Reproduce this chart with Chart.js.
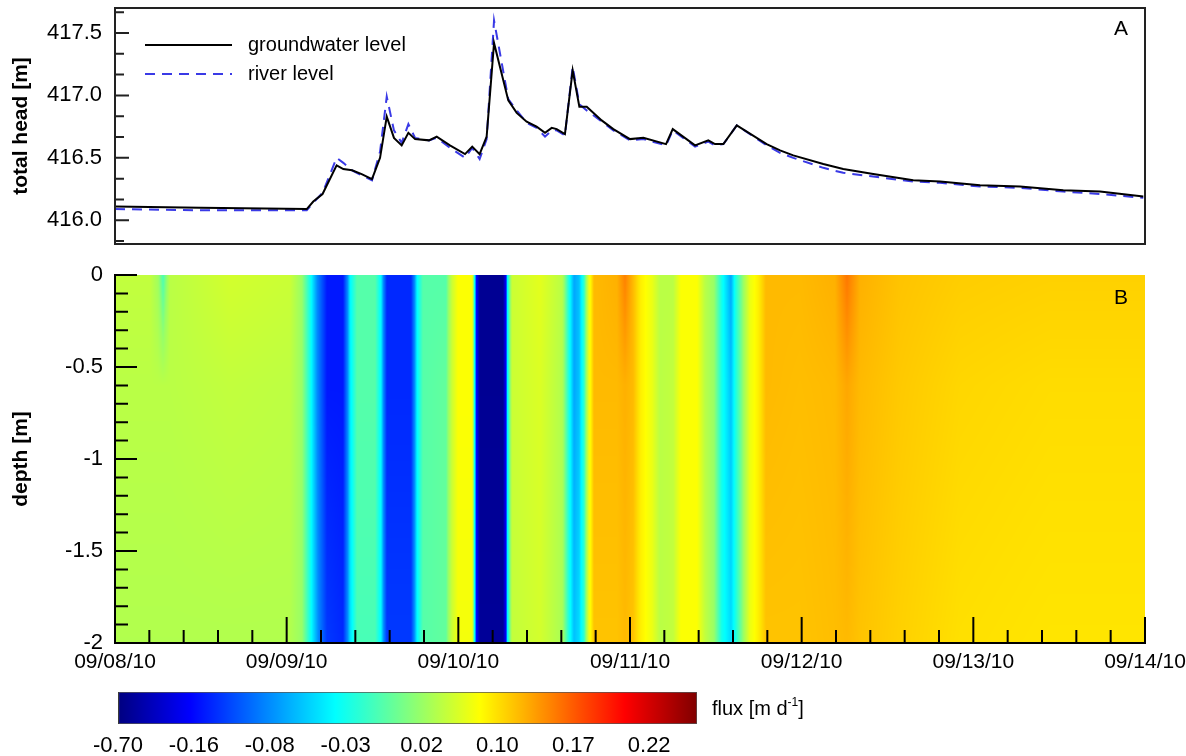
<!DOCTYPE html>
<html>
<head>
<meta charset="utf-8">
<script src="https://cdn.jsdelivr.net/npm/chart.js@4.4.0/dist/chart.umd.min.js"></script>
<style>
  html, body { margin: 0; padding: 0; background: #fff; width: 1186px; height: 756px; overflow: hidden; }
  canvas { position: absolute; left: 0; }
  #headChart { top: 0; }
  #fluxChart { top: 262px; }
  #barChart { top: 685px; }
  .txt { position: absolute; font-family: "Liberation Sans", Arial, sans-serif; color: #000; white-space: nowrap; }
  .txt sup { font-size: 12px; position: relative; top: -2px; vertical-align: top; }
</style>
</head>
<body>
<canvas id="headChart" width="1200" height="246"></canvas>
<canvas id="fluxChart" width="1200" height="421"></canvas>
<canvas id="barChart" width="1200" height="71"></canvas>
<div class="txt" style="left:1114px; top:16px; font-size:21px;">A</div>
<div class="txt" style="left:1114px; top:285px; font-size:21px;">B</div>
<div class="txt" style="left:712px; top:697px; font-size:20px;">flux [m d<sup>-1</sup>]</div>

<script>
// days since 09/08/10 00:00
const days = [0, 0.5, 1.117, 1.155, 1.209, 1.291, 1.330, 1.381, 1.437, 1.497, 1.544, 1.583, 1.625, 1.670, 1.709,
  1.748, 1.829, 1.874, 1.951, 2.039, 2.081, 2.124, 2.165, 2.208, 2.291, 2.340, 2.398, 2.456, 2.505, 2.544,
  2.573, 2.621, 2.666, 2.705, 2.748, 2.835, 2.903, 3.000, 3.078, 3.210, 3.249, 3.379, 3.456, 3.495, 3.544,
  3.622, 3.796, 3.874, 3.951, 4.126, 4.242, 4.417, 4.650, 4.806, 5.039, 5.272, 5.524, 5.738, 5.990];
const groundwater = [416.11, 416.10, 416.09, 416.15, 416.21, 416.44, 416.41, 416.40, 416.37, 416.33, 416.50, 416.83, 416.66, 416.60, 416.70,
  416.65, 416.64, 416.67, 416.60, 416.53, 416.59, 416.53, 416.67, 417.42, 416.96, 416.86, 416.79, 416.75, 416.70, 416.74,
  416.73, 416.69, 417.20, 416.91, 416.91, 416.80, 416.73, 416.65, 416.66, 416.61, 416.73, 416.60, 416.64, 416.61, 416.61,
  416.76, 416.61, 416.56, 416.52, 416.45, 416.41, 416.37, 416.32, 416.31, 416.28, 416.27, 416.24, 416.23, 416.19];
const river = [416.09, 416.08, 416.08, 416.14, 416.22, 416.50, 416.46, 416.40, 416.36, 416.32, 416.55, 416.99, 416.72, 416.62, 416.77,
  416.66, 416.64, 416.66, 416.58, 416.50, 416.58, 416.49, 416.65, 417.60, 416.97, 416.88, 416.78, 416.74, 416.67, 416.72,
  416.72, 416.68, 417.23, 416.93, 416.88, 416.79, 416.72, 416.64, 416.65, 416.60, 416.72, 416.59, 416.63, 416.60, 416.61,
  416.76, 416.60, 416.54, 416.50, 416.42, 416.38, 416.35, 416.31, 416.30, 416.27, 416.26, 416.23, 416.21, 416.18];

const dateLabels = ['09/08/10', '09/09/10', '09/10/10', '09/11/10', '09/12/10', '09/13/10', '09/14/10'];
const headTicks = [416.0, 416.5, 417.0, 417.5];
const depthTicks = [0, -0.5, -1, -1.5, -2];

// flux field: columns in time, rows at these depths
const fluxDepths = [0, -0.6, -2];
const fluxTimes = [0, 0.204, 0.250, 0.280, 0.320, 0.670, 1.019, 1.089, 1.142, 1.194, 1.235, 1.328, 1.369, 1.410, 1.515,
  1.550, 1.584, 1.724, 1.759, 1.794, 1.928, 1.963, 1.998, 2.080, 2.103, 2.126, 2.260, 2.283, 2.313, 2.476,
  2.604, 2.639, 2.674, 2.703, 2.732, 2.761, 2.790, 2.924, 2.971, 3.018, 3.064, 3.128, 3.175, 3.251, 3.297,
  3.390, 3.437, 3.489, 3.535, 3.588, 3.612, 3.652, 3.699, 3.746, 3.792, 3.990, 4.194, 4.264, 4.340, 4.573,
  4.922, 5.447, 6.000];
const fluxTop = [0.045, 0.045, 0.025, -0.01, 0.040, 0.055, 0.050, 0.020, -0.035, -0.10, -0.15, -0.15, -0.04, -0.005, -0.005,
  -0.04, -0.14, -0.14, -0.04, -0.005, -0.005, 0.05, 0.08, 0.08, -0.10, -0.62, -0.62, -0.05, 0.05, 0.065,
  0.04, -0.02, -0.07, -0.06, -0.02, 0.07, 0.12, 0.125, 0.15, 0.12, 0.09, 0.07, 0.04, 0.04, 0.08,
  0.08, 0.04, 0.02, -0.03, -0.07, -0.03, 0.01, 0.07, 0.09, 0.12, 0.12, 0.125, 0.155, 0.125, 0.115,
  0.11, 0.108, 0.108];
const fluxMid = [0.040, 0.040, 0.040, 0.040, 0.040, 0.045, 0.042, 0.020, -0.035, -0.10, -0.15, -0.15, -0.045, -0.005, -0.005,
  -0.04, -0.14, -0.14, -0.04, -0.005, 0.0, 0.05, 0.08, 0.08, -0.10, -0.62, -0.62, -0.05, 0.05, 0.06,
  0.035, -0.02, -0.07, -0.06, -0.02, 0.07, 0.12, 0.12, 0.125, 0.12, 0.09, 0.07, 0.04, 0.045, 0.08,
  0.08, 0.04, 0.02, -0.03, -0.06, -0.03, 0.01, 0.07, 0.09, 0.12, 0.118, 0.12, 0.13, 0.12, 0.112,
  0.105, 0.102, 0.102];
const fluxBottom = [0.035, 0.035, 0.035, 0.035, 0.035, 0.035, 0.035, 0.020, -0.035, -0.09, -0.13, -0.14, -0.05, -0.01, -0.01,
  -0.04, -0.13, -0.13, -0.04, -0.005, 0.0, 0.05, 0.075, 0.075, -0.10, -0.60, -0.60, -0.05, 0.045, 0.055,
  0.03, -0.02, -0.06, -0.05, -0.02, 0.07, 0.115, 0.115, 0.12, 0.115, 0.09, 0.07, 0.04, 0.045, 0.08,
  0.08, 0.045, 0.02, -0.03, -0.05, -0.03, 0.01, 0.07, 0.09, 0.115, 0.115, 0.118, 0.12, 0.115, 0.108,
  0.10, 0.097, 0.097];

const fluxLevels = [-0.70, -0.16, -0.08, -0.03, 0.02, 0.10, 0.17, 0.22];
const barMax = 7.63;

const FONT = '"Liberation Sans", Arial, sans-serif';

function jet(u) {
  const c = x => Math.round(255 * Math.max(0, Math.min(1, x)));
  return [c(1.5 - Math.abs(4 * u - 3)), c(1.5 - Math.abs(4 * u - 2)), c(1.5 - Math.abs(4 * u - 1))];
}

function fluxIndex(v) {
  const L = fluxLevels;
  if (v <= L[0]) return 0;
  for (let i = 0; i < L.length - 1; i++) {
    if (v <= L[i + 1]) return i + (v - L[i]) / (L[i + 1] - L[i]);
  }
  return Math.min(barMax, L.length - 1 + (v - L[L.length - 1]) / 0.05);
}

function interp(xs, ys, x) {
  if (x <= xs[0]) return ys[0];
  for (let i = 0; i < xs.length - 1; i++) {
    if (x <= xs[i + 1]) return ys[i] + (ys[i + 1] - ys[i]) * (x - xs[i]) / (xs[i + 1] - xs[i]);
  }
  return ys[ys.length - 1];
}

// keep the plot box where the layout padding puts it
function fixWidth(w) {
  return s => { s.width = w; s.paddingTop = 0; s.paddingBottom = 0; };
}

// draws the flux field pixel by pixel through the chart scales
const fieldPlugin = {
  id: 'field',
  beforeDatasetsDraw(chart) {
    const { ctx, chartArea: a, scales: { x, y } } = chart;
    const w = Math.round(a.right - a.left), h = Math.round(a.bottom - a.top);
    const img = ctx.createImageData(w, h);
    const rows = [fluxTop, fluxMid, fluxBottom];
    const depthAt = [];
    for (let j = 0; j < h; j++) depthAt.push(y.getValueForPixel(a.top + j + 0.5));
    for (let i = 0; i < w; i++) {
      const t = x.getValueForPixel(a.left + i + 0.5);
      const col = rows.map(r => interp(fluxTimes, r, t));
      for (let j = 0; j < h; j++) {
        const d = depthAt[j];
        const v = d >= fluxDepths[1]
          ? col[0] + (col[1] - col[0]) * (d - fluxDepths[0]) / (fluxDepths[1] - fluxDepths[0])
          : col[1] + (col[2] - col[1]) * (d - fluxDepths[1]) / (fluxDepths[2] - fluxDepths[1]);
        const rgb = jet(fluxIndex(v) / barMax);
        const k = (j * w + i) * 4;
        img.data[k] = rgb[0]; img.data[k + 1] = rgb[1]; img.data[k + 2] = rgb[2]; img.data[k + 3] = 255;
      }
    }
    ctx.putImageData(img, Math.round(a.left), Math.round(a.top));
  }
};

// frame lines and inward tick marks
const framePlugin = {
  id: 'frame',
  afterDraw(chart, args, o) {
    const { ctx, chartArea: a } = chart;
    ctx.save();
    ctx.strokeStyle = o.color || '#000';
    ctx.lineWidth = 2;
    ctx.beginPath();
    (o.marks || []).forEach(m => {
      const s = chart.scales[m.axis];
      const draw = (v, len) => {
        const p = s.getPixelForValue(v);
        if (m.axis === 'y') { ctx.moveTo(a.left, p); ctx.lineTo(a.left + len, p); }
        else { ctx.moveTo(p, a.bottom); ctx.lineTo(p, a.bottom - len); }
      };
      for (let v = m.from; v <= m.to + 1e-9; v += m.minorStep) draw(v, m.minorLen);
      m.major.forEach(v => draw(v, m.majorLen));
    });
    ctx.stroke();
    ctx.beginPath();
    if (o.sides.includes('left')) { ctx.moveTo(a.left, a.top - 1); ctx.lineTo(a.left, a.bottom + 1); }
    if (o.sides.includes('bottom')) { ctx.moveTo(a.left - 1, a.bottom); ctx.lineTo(a.right + 1, a.bottom); }
    if (o.sides.includes('right')) { ctx.moveTo(a.right, a.top - 1); ctx.lineTo(a.right, a.bottom + 1); }
    if (o.sides.includes('top')) { ctx.moveTo(a.left - 1, a.top); ctx.lineTo(a.right + 1, a.top); }
    ctx.stroke();
    ctx.restore();
  }
};

const legendPlugin = {
  id: 'innerLegend',
  afterDatasetsDraw(chart, args, o) {
    const { ctx, chartArea: a } = chart;
    chart.data.datasets.forEach((ds, i) => {
      const y = a.top + o.top + i * o.gap;
      ctx.save();
      ctx.strokeStyle = ds.borderColor;
      ctx.lineWidth = ds.borderWidth;
      ctx.setLineDash(ds.borderDash || []);
      ctx.beginPath();
      ctx.moveTo(a.left + o.x0, y);
      ctx.lineTo(a.left + o.x1, y);
      ctx.stroke();
      ctx.setLineDash([]);
      ctx.fillStyle = '#000';
      ctx.font = '20px ' + FONT;
      ctx.textBaseline = 'middle';
      ctx.fillText(ds.label, a.left + o.textX, y);
      ctx.restore();
    });
  }
};

const tickFont = { family: FONT, size: 22 };
const dateFont = { family: FONT, size: 21 };
const titleFont = { family: FONT, size: 21, weight: 'bold' };

new Chart(document.getElementById('headChart'), {
  type: 'line',
  data: {
    datasets: [
      { label: 'groundwater level', data: days.map((d, i) => ({ x: d, y: groundwater[i] })),
        borderColor: '#000', borderWidth: 2, pointRadius: 0, tension: 0 },
      { label: 'river level', data: days.map((d, i) => ({ x: d, y: river[i] })),
        borderColor: '#3a3ae6', borderWidth: 2, borderDash: [10, 7], pointRadius: 0, tension: 0 }
    ]
  },
  options: {
    responsive: false,
    animation: false,
    layout: { padding: { left: 0, right: 55, top: 8, bottom: 2 } },
    plugins: {
      legend: { display: false },
      tooltip: { enabled: false },
      frame: {
        color: '#222', sides: ['left', 'right', 'top', 'bottom'],
        marks: [{ axis: 'y', major: headTicks, majorLen: 14, from: 415.8333, to: 417.7, minorStep: 1 / 6, minorLen: 9 }]
      },
      innerLegend: { top: 37, gap: 29, x0: 30, x1: 117, textX: 133 }
    },
    scales: {
      x: { type: 'linear', min: 0, max: 6, display: false },
      y: {
        min: 415.81, max: 417.7,
        afterFit: fixWidth(115),
        afterBuildTicks: s => { s.ticks = headTicks.map(v => ({ value: v })); },
        grid: { display: false, drawTicks: false },
        border: { display: false },
        ticks: { font: tickFont, color: '#000', padding: 13, callback: v => v.toFixed(1) },
        title: { display: true, text: 'total head [m]', font: titleFont, color: '#000', padding: { top: 9, bottom: 0 } }
      }
    }
  },
  plugins: [framePlugin, legendPlugin]
});

new Chart(document.getElementById('fluxChart'), {
  type: 'scatter',
  data: { datasets: [] },
  options: {
    responsive: false,
    animation: false,
    layout: { padding: { left: 0, right: 55, top: 13, bottom: 0 } },
    plugins: {
      legend: { display: false },
      tooltip: { enabled: false },
      frame: {
        color: '#000', sides: ['left', 'bottom'],
        marks: [
          { axis: 'y', major: depthTicks, majorLen: 22, from: -2, to: 0, minorStep: 0.1, minorLen: 13 },
          { axis: 'x', major: [0, 1, 2, 3, 4, 5, 6], majorLen: 26, from: 0, to: 6, minorStep: 0.2, minorLen: 13 }
        ]
      }
    },
    scales: {
      x: {
        type: 'linear', min: 0, max: 6,
        afterFit: s => { s.height = 40; },
        afterBuildTicks: s => { s.ticks = dateLabels.map((l, i) => ({ value: i })); },
        grid: { display: false, drawTicks: false },
        border: { display: false },
        ticks: { font: dateFont, color: '#000', padding: 7, maxRotation: 0, callback: (v, i) => dateLabels[i] }
      },
      y: {
        type: 'linear', min: -2, max: 0,
        afterFit: fixWidth(115),
        afterBuildTicks: s => { s.ticks = depthTicks.map(v => ({ value: v })); },
        grid: { display: false, drawTicks: false },
        border: { display: false },
        ticks: { font: tickFont, color: '#000', padding: 12, callback: v => String(v) },
        title: { display: true, text: 'depth [m]', font: titleFont, color: '#000', padding: { top: 9, bottom: 0 } }
      }
    }
  },
  plugins: [fieldPlugin, framePlugin]
});

new Chart(document.getElementById('barChart'), {
  type: 'bar',
  data: {
    labels: ['flux'],
    datasets: [{
      data: [[0, barMax]],
      backgroundColor: c => {
        const ch = c.chart;
        if (!ch.chartArea) return '#888';
        const sx = ch.scales.x;
        const g = ch.ctx.createLinearGradient(sx.getPixelForValue(0), 0, sx.getPixelForValue(barMax), 0);
        for (let k = 0; k <= 40; k++) {
          const rgb = jet(k / 40);
          g.addColorStop(k / 40, `rgb(${rgb[0]},${rgb[1]},${rgb[2]})`);
        }
        return g;
      },
      borderColor: '#555',
      borderWidth: 1,
      borderSkipped: false,
      barPercentage: 1,
      categoryPercentage: 1
    }]
  },
  options: {
    indexAxis: 'y',
    responsive: false,
    animation: false,
    layout: { padding: { left: 118, right: 503, top: 7, bottom: 0 } },
    plugins: { legend: { display: false }, tooltip: { enabled: false } },
    scales: {
      x: {
        type: 'linear', min: 0, max: barMax, z: 1,
        afterFit: s => { s.height = 32; },
        afterBuildTicks: s => { s.ticks = fluxLevels.map((v, i) => ({ value: i })); },
        grid: { display: true, drawOnChartArea: true, drawTicks: false, color: '#000', lineWidth: 1 },
        border: { display: false },
        ticks: { font: tickFont, color: '#000', padding: 9, maxRotation: 0, callback: (v, i) => fluxLevels[i].toFixed(2) }
      },
      y: { display: false }
    }
  }
});
</script>
</body>
</html>
